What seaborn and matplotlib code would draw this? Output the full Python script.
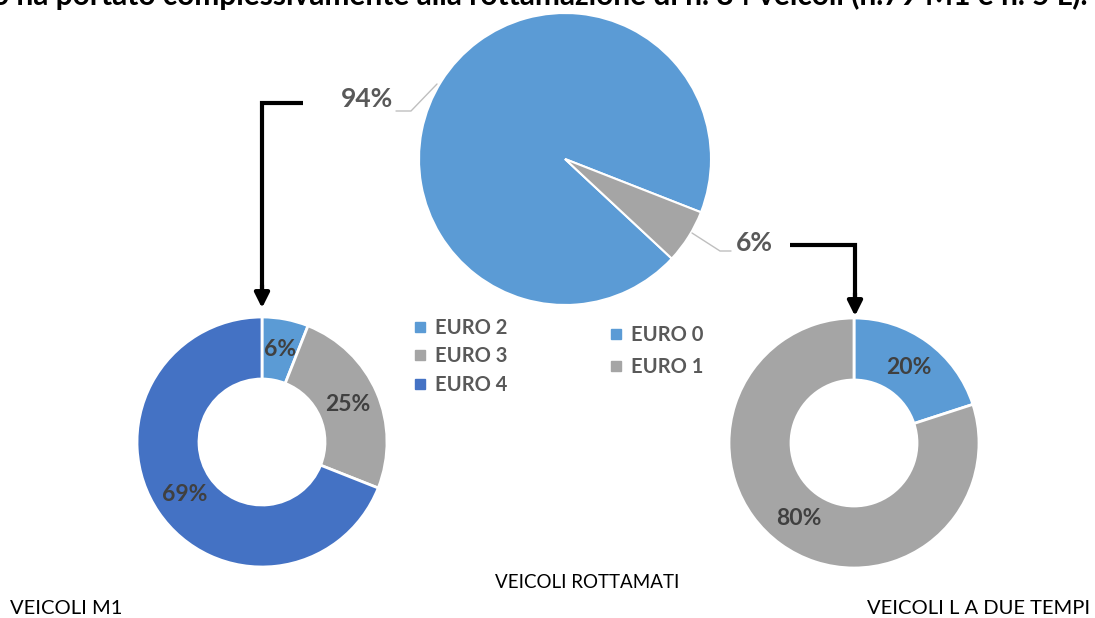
import matplotlib
matplotlib.use("Agg")
import matplotlib.pyplot as plt
import seaborn as sns
from matplotlib.lines import Line2D

# ---- data ----
main_labels = ["EURO 0", "EURO 1"]
main_values = [94, 6]
m1_labels = ["EURO 2", "EURO 3", "EURO 4"]
m1_values = [6, 25, 69]
l_labels = ["EURO 0", "EURO 1"]
l_values = [20, 80]
top_text = "o ha portato complessivamente alla rottamazione di n. 84 veicoli (n.79 M1 e n. 5 L)."
title_main = "VEICOLI ROTTAMATI"
title_m1 = "VEICOLI M1"
title_l = "VEICOLI L A DUE TEMPI"

# ---- style ----
sns.set_theme(style="white")
plt.rcParams["font.family"] = ["Lato", "DejaVu Sans"]

BLUE = "#5B9BD5"
GRAY = "#A5A5A5"
DBLUE = "#4472C4"
TXT = "#595959"
main_colors = [BLUE, GRAY]
m1_colors = [BLUE, GRAY, DBLUE]
l_colors = [BLUE, GRAY]

W, H = 1095, 618
fig = plt.figure(figsize=(W / 100, H / 100), dpi=100)
ax = fig.add_axes([0, 0, 1, 1])


def P(x, y):
    return (x, H - y)


wp = dict(edgecolor="white", linewidth=1.5)

# main pie
ax.pie(main_values, colors=main_colors, startangle=-43, counterclock=False,
       center=P(565, 159), radius=146, wedgeprops=wp, frame=True)

# donuts
pct_fmt = lambda p: f"{p:.0f}%"
_, _, t1 = ax.pie(m1_values, colors=m1_colors, startangle=90, counterclock=False,
                  center=P(262, 442), radius=125,
                  wedgeprops=dict(width=62, edgecolor="white", linewidth=2),
                  autopct=pct_fmt, pctdistance=0.75, frame=True)
_, _, t2 = ax.pie(l_values, colors=l_colors, startangle=90, counterclock=False,
                  center=P(854, 443), radius=125,
                  wedgeprops=dict(width=62, edgecolor="white", linewidth=2),
                  autopct=pct_fmt, pctdistance=0.75, frame=True)
for t in list(t1) + list(t2):
    t.set_fontsize(16.5)
    t.set_fontweight("bold")
    t.set_color("#404040")

# main pie labels with leader lines
ax.text(*P(393, 99), f"{main_values[0]}%", ha="right", va="center",
        fontsize=19, fontweight="bold", color=TXT)
ax.plot(*zip(P(396, 111), P(411, 111), P(437, 84)), color="#BFBFBF", lw=1)
ax.text(*P(736, 243), f"{main_values[1]}%", ha="left", va="center",
        fontsize=19, fontweight="bold", color=TXT)
ax.plot(*zip(P(692, 233), P(720, 251), P(731, 251)), color="#BFBFBF", lw=1)

# arrows
arrow_kw = dict(arrowstyle="-|>", color="black", lw=3, mutation_scale=22,
                shrinkA=0, shrinkB=0)
ax.plot(*zip(P(303, 103), P(262, 103), P(262, 290)), color="black", lw=3,
        solid_joinstyle="miter", solid_capstyle="butt")
ax.annotate("", xy=P(262, 308), xytext=P(262, 285), arrowprops=arrow_kw)
ax.plot(*zip(P(790, 245), P(855, 245), P(855, 297)), color="black", lw=3,
        solid_joinstyle="miter", solid_capstyle="butt")
ax.annotate("", xy=P(855, 316), xytext=P(855, 293), arrowprops=arrow_kw)

# legends
leg_kw = dict(loc="upper left", bbox_transform=ax.transData, frameon=False,
              borderpad=0, borderaxespad=0, handlelength=0.6, handletextpad=0.45,
              prop=dict(size=14.5, weight="bold"), labelcolor=TXT)
h1 = [Line2D([], [], marker="s", ls="", color=c, markersize=6.5) for c in m1_colors]
leg1 = ax.legend(h1, m1_labels, bbox_to_anchor=P(414, 318), labelspacing=0.42, **leg_kw)
ax.add_artist(leg1)
h2 = [Line2D([], [], marker="s", ls="", color=c, markersize=6.5) for c in main_colors]
ax.legend(h2, main_labels, bbox_to_anchor=P(610, 325), labelspacing=0.58, **leg_kw)

# texts
ax.text(*P(1088, 5), top_text, ha="right", va="baseline", fontsize=21.5,
        fontweight="bold", color="black")
ax.text(*P(587, 583), title_main, ha="center", va="center", fontsize=13.5, color="black")
ax.text(*P(10, 608), title_m1, ha="left", va="center", fontsize=14.5, color="black")
ax.text(*P(1090, 608), title_l, ha="right", va="center", fontsize=14.5, color="black")

ax.set_xlim(0, W)
ax.set_ylim(0, H)
ax.set_aspect("equal")
ax.axis("off")

fig.savefig("out.png", dpi=100)
